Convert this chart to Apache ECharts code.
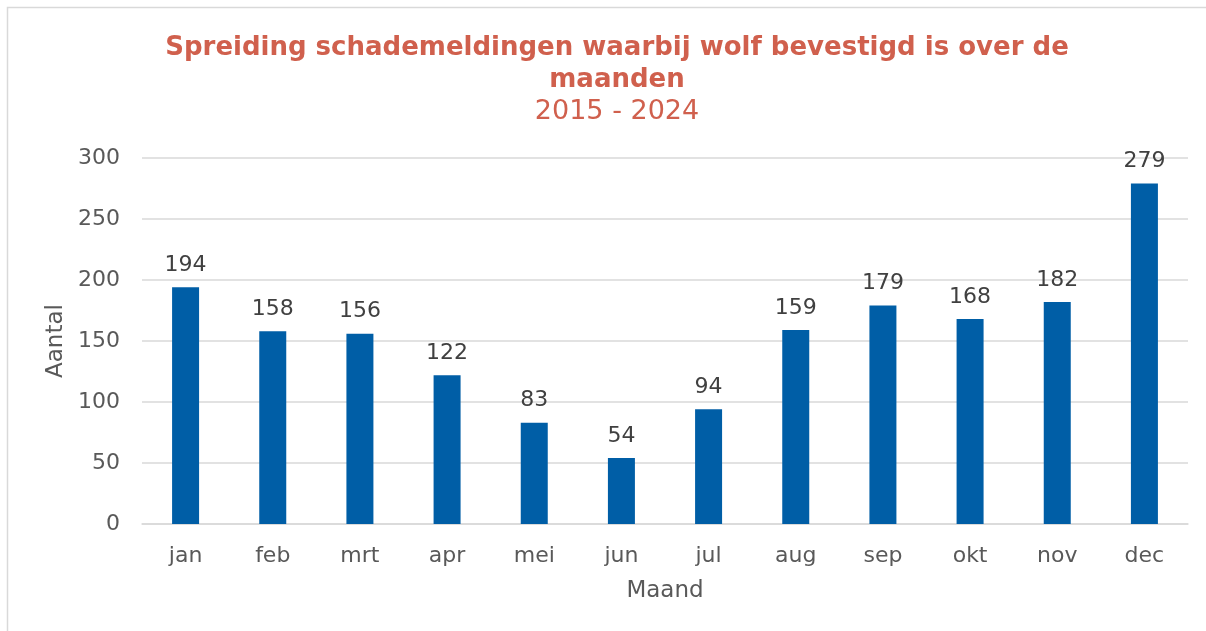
<!DOCTYPE html>
<html>
<head>
<meta charset="utf-8">
<script src="https://cdn.jsdelivr.net/npm/echarts@6/dist/echarts.min.js"></script>
<style>
  html, body { margin: 0; padding: 0; background: #fff; }
  #chart { width: 1206px; height: 631px; }
</style>
</head>
<body>
<div id="chart"></div>
<script>
const months = ['jan', 'feb', 'mrt', 'apr', 'mei', 'jun', 'jul', 'aug', 'sep', 'okt', 'nov', 'dec']
const counts = [194, 158, 156, 122, 83, 54, 94, 159, 179, 168, 182, 279]
const yTicks = [0, 50, 100, 150, 200, 250, 300]

const font = 'DejaVu Sans, Verdana, sans-serif'
const titleColor = '#d0604d'

const chart = echarts.init(document.getElementById('chart'))
chart.setOption({
  animation: false,
  textStyle: { fontFamily: font },
  graphic: [
    {
      type: 'rect',
      shape: { x: 7.5, y: 7.5, width: 1400, height: 700 },
      style: { fill: 'none', stroke: '#d9d9d9', lineWidth: 1.5 },
      silent: true
    }
  ],
  title: [
    {
      text: 'Spreiding schademeldingen waarbij wolf bevestigd is over de\nmaanden',
      left: 612,
      top: 27,
      textAlign: 'center',
      textStyle: {
        fontFamily: font,
        fontSize: 26,
        fontWeight: 'bold',
        color: titleColor,
        lineHeight: 32
      }
    },
    {
      text: '2015 - 2024',
      left: 612,
      top: 93,
      textAlign: 'center',
      textStyle: {
        fontFamily: font,
        fontSize: 27,
        fontWeight: 'normal',
        color: titleColor
      }
    }
  ],
  grid: {
    left: 142,
    right: 18,
    top: 158,
    bottom: 107
  },
  xAxis: {
    type: 'category',
    data: months,
    name: 'Maand',
    nameLocation: 'middle',
    nameGap: 56,
    nameTextStyle: { fontSize: 23, color: '#595959', fontFamily: font },
    axisLine: { show: true, lineStyle: { color: '#d9d9d9', width: 1.5 } },
    axisTick: { show: false },
    axisLabel: { fontSize: 22, color: '#595959', margin: 21, fontFamily: font }
  },
  yAxis: {
    type: 'value',
    min: yTicks[0],
    max: yTicks[yTicks.length - 1],
    interval: yTicks[1] - yTicks[0],
    name: 'Aantal',
    nameLocation: 'middle',
    nameGap: 72,
    nameRotate: 90,
    nameTextStyle: { fontSize: 23, color: '#595959', fontFamily: font },
    axisLine: { show: false },
    axisTick: { show: false },
    axisLabel: { fontSize: 22, color: '#595959', margin: 22, fontFamily: font },
    splitLine: { lineStyle: { color: '#d9d9d9', width: 1.5 } }
  },
  series: [
    {
      type: 'bar',
      data: counts,
      barWidth: 27,
      itemStyle: { color: '#005ea6' },
      label: {
        show: true,
        position: 'top',
        distance: 11,
        fontSize: 22,
        color: '#404040',
        fontFamily: font
      }
    }
  ]
})
</script>
</body>
</html>
